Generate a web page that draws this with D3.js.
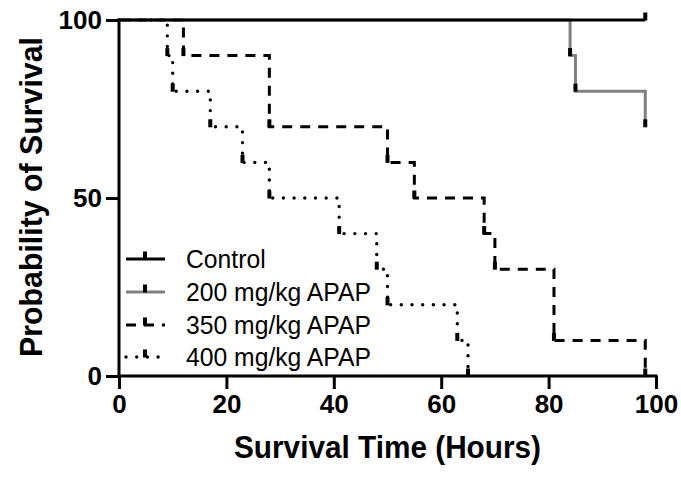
<!DOCTYPE html>
<html>
<head>
<meta charset="utf-8">
<script src="https://cdn.jsdelivr.net/npm/d3@7"></script>
<style>
  body { margin: 0; background: #fff; }
  text { font-family: Arial, "Liberation Sans", sans-serif; }
</style>
</head>
<body>
<div id="chart"></div>
<script>
// Survival data (hours, percent surviving)
const controlTimes = [0, 98];
const controlSurv = [100, 100];
const apap200Times = [0, 84, 85, 98];
const apap200Surv = [100, 90, 80, 70];
const apap350Times = [0, 12, 28, 50, 55, 68, 70, 81, 98];
const apap350Surv = [100, 90, 70, 60, 50, 40, 30, 10, 0];
const apap400Times = [0, 9, 10, 17, 23, 28, 41, 48, 50, 63, 65];
const apap400Surv = [100, 90, 80, 70, 60, 50, 40, 30, 20, 10, 0];

const seriesNames = ["Control", "200 mg/kg APAP", "350 mg/kg APAP", "400 mg/kg APAP"];
const xTicks = [0, 20, 40, 60, 80, 100];
const yTicks = [0, 50, 100];

let width = 681;
let height = 478;

let svg = d3.select("#chart")
    .append("svg")
    .attr("width", width)
    .attr("height", height);

let x = d3.scaleLinear().domain([0, 100]).range([119, 656]);
let y = d3.scaleLinear().domain([0, 100]).range([376, 20]);

// squeeze a text element horizontally to a given fraction of its width
function squeeze(sel, k) {
    sel.each(function () {
        let w = this.getComputedTextLength();
        d3.select(this)
            .attr("textLength", w * k)
            .attr("lengthAdjust", "spacingAndGlyphs");
    });
}

// line styles per series
let styles = [
    { color: "#000", dash: null, cap: "butt", w: 3 },
    { color: "#808080", dash: null, cap: "butt", w: 3 },
    { color: "#000", dash: "10,8", cap: "butt", w: 3 },
    { color: "#000", dash: "0,10.7", cap: "round", w: 3.4 }
];

let series = [
    { times: controlTimes, surv: controlSurv },
    { times: apap200Times, surv: apap200Surv },
    { times: apap350Times, surv: apap350Surv },
    { times: apap400Times, surv: apap400Surv }
].map((s, i) => ({
    name: seriesNames[i],
    style: styles[i],
    points: s.times.map((t, j) => ({ t: t, s: s.surv[j] }))
}));

// axes
let xAxis = d3.axisBottom(x).tickValues(xTicks).tickSize(13).tickPadding(6);
let yAxis = d3.axisLeft(y).tickValues(yTicks).tickSize(13).tickPadding(4);

let gx = svg.append("g")
    .attr("transform", `translate(0,${y(0)})`)
    .call(xAxis);
let gy = svg.append("g")
    .attr("transform", `translate(${x(0)},0)`)
    .call(yAxis);

[gx, gy].forEach(g => {
    g.selectAll(".domain").attr("stroke", "#000").attr("stroke-width", 3);
    g.selectAll(".tick line").attr("stroke", "#000").attr("stroke-width", 3);
    g.selectAll(".tick text")
        .attr("fill", "#000")
        .style("font-size", "26px")
        .style("font-weight", "bold");
});
// axis lines without end caps
gx.select(".domain").attr("d", `M${x(0) - 1.5},0H${x(100) + 1.5}`);
gy.select(".domain").attr("d", `M0,${y(100) - 1.5}V${y(0) + 1.5}`);

let line = d3.line()
    .x(d => x(d.t))
    .y(d => y(d.s))
    .curve(d3.curveStepAfter);

// draw in reverse so Control sits on top
let drawOrder = series.slice().reverse();
drawOrder.forEach(s => {
    svg.append("path")
        .datum(s.points)
        .attr("fill", "none")
        .attr("stroke", s.style.color)
        .attr("stroke-width", s.style.w)
        .attr("stroke-linecap", s.style.cap)
        .attr("stroke-dasharray", s.style.dash)
        .attr("d", line);

    // tick symbols at each event
    svg.selectAll(null)
        .data(s.points.slice(1))
        .enter()
        .append("rect")
        .attr("x", d => x(d.t) - 2)
        .attr("y", d => y(d.s) - 7.5)
        .attr("width", 4)
        .attr("height", 8)
        .attr("fill", "#000");
});

// legend
let legend = svg.append("g");
let legendY = [259, 292, 325, 357];
series.forEach((s, i) => {
    let ly = legendY[i];
    legend.append("line")
        .attr("x1", 126).attr("x2", 165)
        .attr("y1", ly).attr("y2", ly)
        .attr("stroke", s.style.color)
        .attr("stroke-width", s.style.w)
        .attr("stroke-linecap", s.style.cap)
        .attr("stroke-dasharray", s.style.dash);
    legend.append("rect")
        .attr("x", 143).attr("y", ly - 7.5)
        .attr("width", 4).attr("height", 8)
        .attr("fill", "#000");
    legend.append("text")
        .attr("x", 186)
        .attr("y", ly + 9)
        .style("font-size", "26px")
        .attr("fill", "#000")
        .text(s.name)
        .call(squeeze, 0.95);
});

// axis titles
svg.append("text")
    .attr("x", (x(0) + x(100)) / 2)
    .attr("y", 458)
    .attr("text-anchor", "middle")
    .style("font-size", "32px")
    .style("font-weight", "bold")
    .attr("textLength", 307)
    .attr("lengthAdjust", "spacingAndGlyphs")
    .text("Survival Time (Hours)");

svg.append("text")
    .attr("transform", `translate(42,${(y(0) + y(100)) / 2 - 1}) rotate(-90)`)
    .attr("text-anchor", "middle")
    .style("font-size", "31px")
    .style("font-weight", "bold")
    .attr("textLength", 320)
    .attr("lengthAdjust", "spacingAndGlyphs")
    .text("Probability of Survival");
</script>
</body>
</html>
